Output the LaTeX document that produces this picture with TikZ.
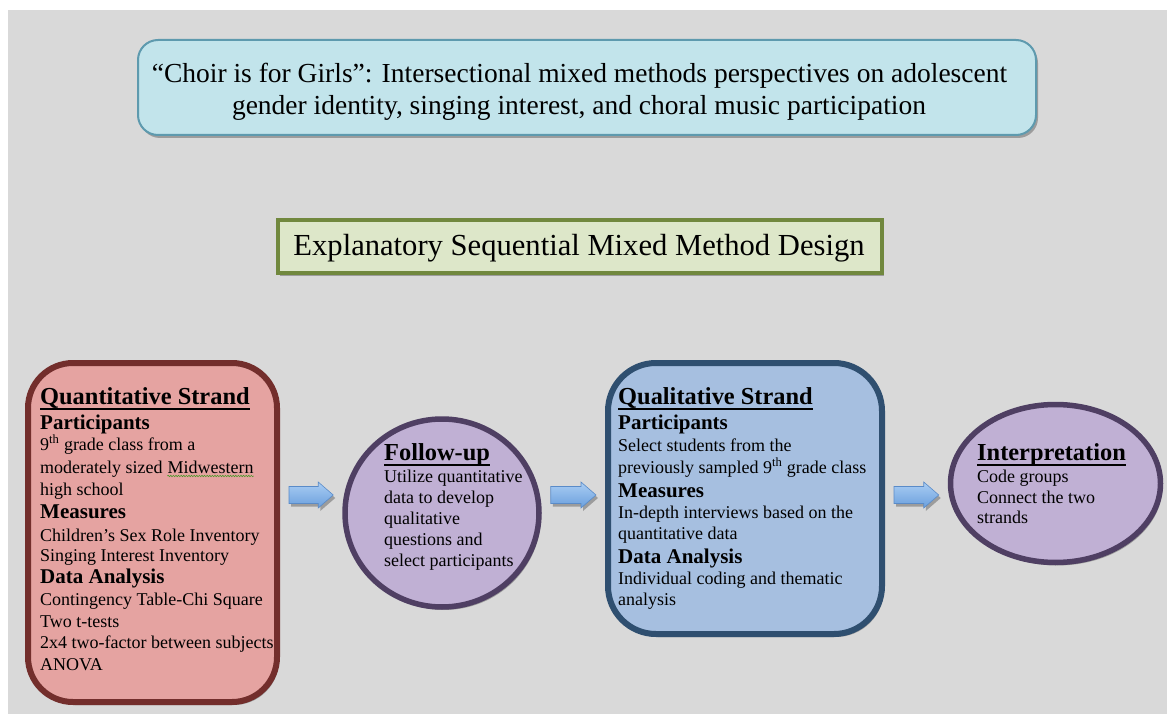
\documentclass[tikz,border=0pt]{standalone}
\usepackage{fontspec}
\setmainfont{Liberation Serif}
\usetikzlibrary{shadows,calc,decorations.pathmorphing,shapes.geometric}
\definecolor{bggray}{HTML}{D9D9D9}
\definecolor{titlefill}{HTML}{C2E4EB}
\definecolor{titleline}{HTML}{5E9AAE}
\definecolor{greenfill}{HTML}{DDE7C9}
\definecolor{greenline}{HTML}{71883E}
\definecolor{quantfill}{HTML}{E5A3A1}
\definecolor{quantline}{HTML}{732E2C}
\definecolor{purpfill}{HTML}{C0B0D4}
\definecolor{purpline}{HTML}{4F3F63}
\definecolor{qualfill}{HTML}{A6BFE0}
\definecolor{qualline}{HTML}{2F4F70}
\definecolor{arrtop}{HTML}{AACDF3}
\definecolor{arrbot}{HTML}{6A9FDD}
\definecolor{arrline}{HTML}{5A8BC8}
\definecolor{wavegreen}{HTML}{4C9A2A}
\newcommand\headline[1]{\draw[line width=1.3pt] ([yshift=-5pt]#1.base west) -- ([yshift=-5pt]#1.base east);}
\newcommand\blockarrow[2]{%
  \path[blockarr] let \p1=($(#1.east |- ay)+(9,0)$), \p2=($(#2.west |- ay)+(-9,0)$) in
    (\x1,\y1+8.5pt) -- (\x2-15pt,\y1+8.5pt) -- (\x2-15pt,\y1+13pt) -- (\x2,\y1)
    -- (\x2-15pt,\y1-13pt) -- (\x2-15pt,\y1-8.5pt) -- (\x1,\y1-8.5pt) -- cycle;}
\tikzset{
  shad/.style={drop shadow={shadow xshift=2pt, shadow yshift=-3pt, opacity=0.28, fill=black}},
  body/.style={anchor=base west, inner sep=0pt, font=\fontsize{18}{21}\selectfont},
  headtxt/.style={anchor=base west, inner sep=0pt, font=\fontsize{24.4}{28}\selectfont\bfseries},
  subhead/.style={anchor=base west, inner sep=0pt, font=\fontsize{21}{24}\selectfont\bfseries},
  titletxt/.style={anchor=base, inner sep=0pt, font=\fontsize{27.5}{32}\selectfont},
  titlebox/.style={draw=titleline, fill=titlefill, line width=2pt, rounded corners=20pt,
    minimum width=898pt, minimum height=95pt, inner sep=0pt, shad},
  greenbox/.style={draw=greenline, fill=greenfill, line width=4pt,
    minimum width=604pt, minimum height=53pt, inner sep=0pt, shad},
  quantbox/.style={draw=quantline, fill=quantfill, line width=6pt, rounded corners=45pt,
    minimum width=249pt, minimum height=339pt, inner sep=0pt, shad},
  qualbox/.style={draw=qualline, fill=qualfill, line width=6pt, rounded corners=48pt,
    minimum width=274pt, minimum height=271pt, inner sep=0pt, shad},
  purpoval/.style={ellipse, draw=purpline, fill=purpfill, line width=5.5pt, inner sep=0pt, shad},
  blockarr/.style={draw=arrline, line width=0.6pt, top color=arrtop, bottom color=arrbot, shad},
}
\begin{document}
\begin{tikzpicture}[x=1pt,y=-1pt]
\useasboundingbox (0,0) rectangle (1167,714);
\fill[white] (0,0) rectangle (1167,714);
\fill[bggray] (8,10) rectangle (1167,714);
\coordinate (ay) at (0,495);

% title
\node[titlebox] (title) at (587,87.5) {};
\node[titletxt] (t1) at (579.5,83) {“Choir is for Girls”: Intersectional mixed methods perspectives on adolescent};
\node[titletxt] (t2) at (579,115) {gender identity, singing interest, and choral music participation};

% design
\node[greenbox] (design) at (580,246.5) {};
\node[anchor=base, inner sep=0pt, font=\fontsize{30.6}{34}\selectfont] (dt) at (579,255) {Explanatory Sequential Mixed Method Design};

% shapes
\node[quantbox] (quant) at (152.5,532.5) {};
\node[purpoval, minimum width=194pt, minimum height=188pt] (follow) at (442,513) {};
\node[qualbox] (qual) at (745,498.5) {};
\node[purpoval, minimum width=210pt, minimum height=158pt] (interp) at (1055.5,483.5) {};

% arrows
\blockarrow{quant}{follow}
\blockarrow{follow}{qual}
\blockarrow{qual}{interp}

% quantitative text
\node[headtxt] (qh) at (40,404) {Quantitative Strand};
\headline{qh}
\node[subhead] (qp) at (40,429) {Participants};
\node[body] (q1) at (40,450) {9\textsuperscript{th} grade class from a};
\node[body] (q2) at (40,473) {moderately sized};
\node[body] (q2b) at ([xshift=4.5pt]q2.base east) {Midwestern};
\draw[wavegreen, line width=0.6pt, decorate, decoration={snake, amplitude=0.7pt, segment length=2.6pt}]
  ([yshift=-3pt]q2b.base west) -- ([yshift=-3pt]q2b.base east);
\node[body] (q3) at (40,495) {high school};
\node[subhead] (qm) at (40,518) {Measures};
\node[body] (q4) at (40,541) {Children’s Sex Role Inventory};
\node[body] (q5) at (40,561) {Singing Interest Inventory};
\node[subhead] (qd) at (40,583) {Data Analysis};
\node[body] (q6) at (40,605) {Contingency Table-Chi Square};
\node[body] (q7) at (40,627) {Two t-tests};
\node[body] (q8) at (40,648) {2x4 two-factor between subjects};
\node[body] (q9) at (40,670) {ANOVA};

% follow-up text
\node[headtxt] (fh) at (384,460) {Follow-up};
\headline{fh}
\node[body] (f1) at (384,482) {Utilize quantitative};
\node[body] (f2) at (384,503) {data to develop};
\node[body] (f3) at (384,524) {qualitative};
\node[body] (f4) at (384,545) {questions and};
\node[body] (f5) at (384,566) {select participants};

% qualitative text
\node[headtxt] (lh) at (618,404) {Qualitative Strand};
\headline{lh}
\node[subhead] (lp) at (618,429) {Participants};
\node[body] (l1) at (618,451) {Select students from the};
\node[body] (l2) at (618,473) {previously sampled 9\textsuperscript{th} grade class};
\node[subhead] (lm) at (618,497) {Measures};
\node[body] (l3) at (618,518) {In-depth interviews based on the};
\node[body] (l4) at (618,539) {quantitative data};
\node[subhead] (ld) at (618,563) {Data Analysis};
\node[body] (l5) at (618,584) {Individual coding and thematic};
\node[body] (l6) at (618,605) {analysis};

% interpretation text
\node[headtxt] (ih) at (977,460) {Interpretation};
\headline{ih}
\node[body] (i1) at (977,482) {Code groups};
\node[body] (i2) at (977,503) {Connect the two};
\node[body] (i3) at (977,523) {strands};
\end{tikzpicture}
\end{document}
